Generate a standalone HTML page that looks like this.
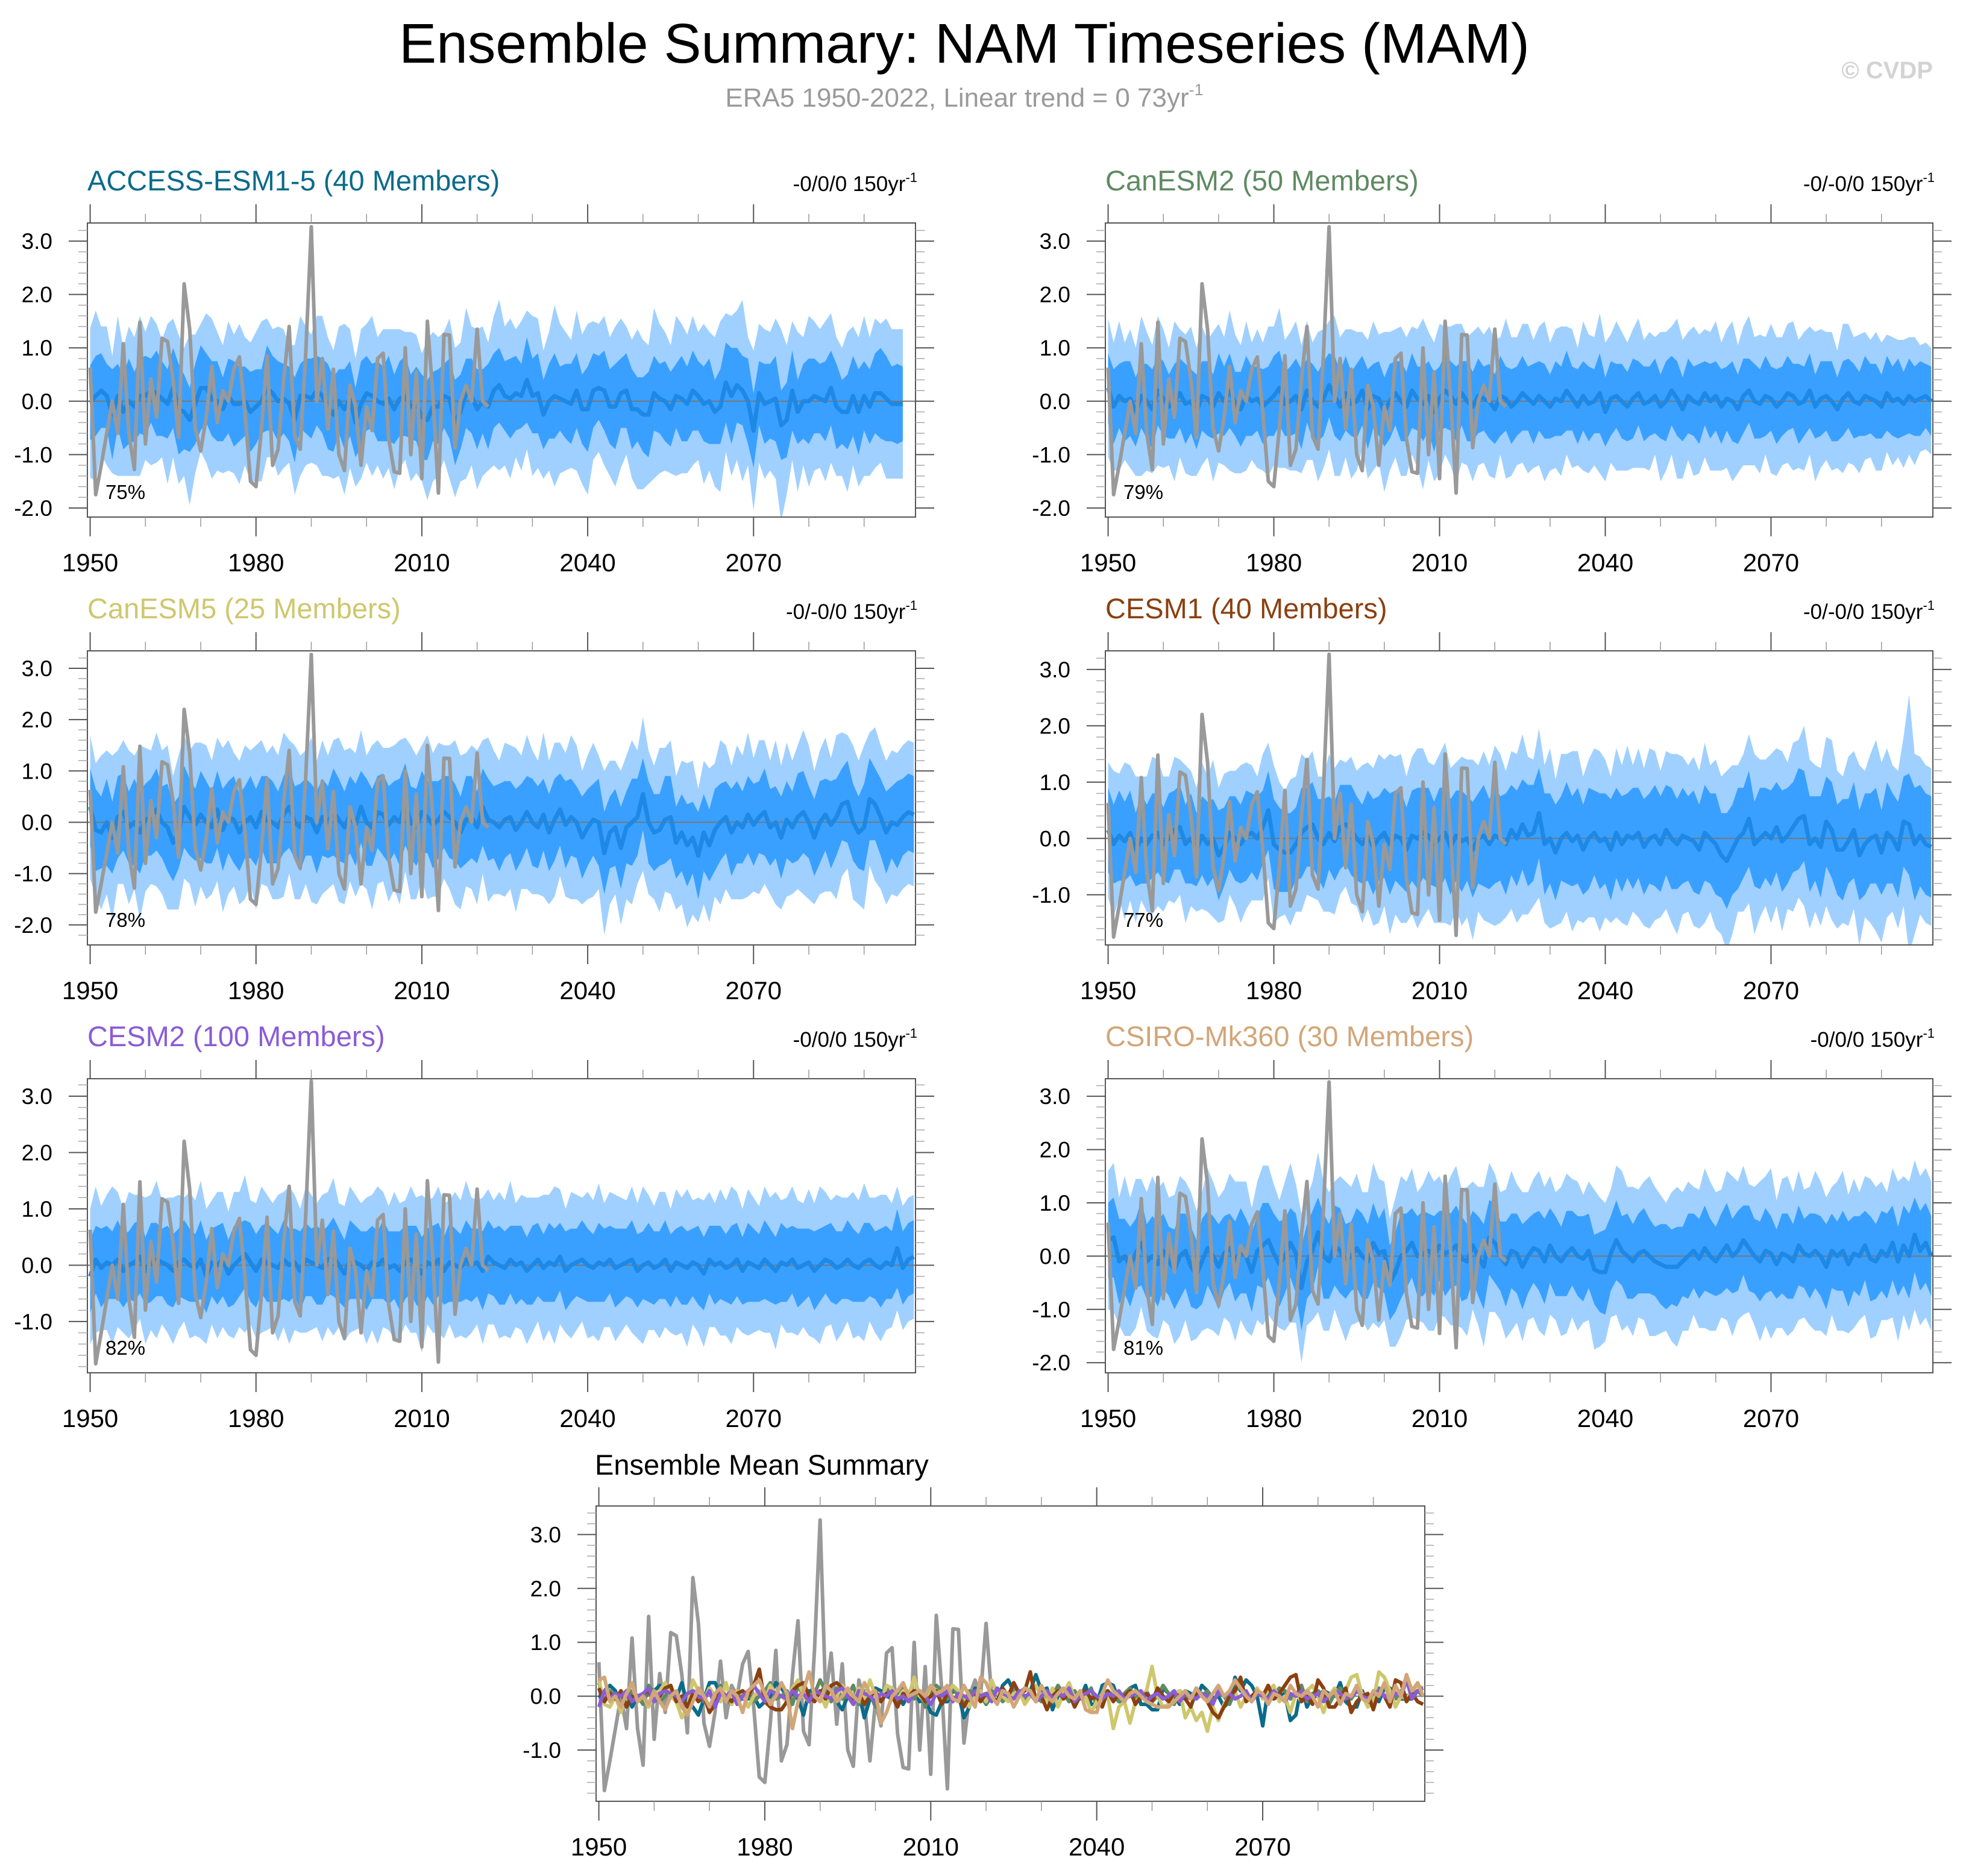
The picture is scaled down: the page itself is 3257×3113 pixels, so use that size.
<!DOCTYPE html>
<html><head><meta charset="utf-8"><title>Ensemble Summary: NAM Timeseries (MAM)</title>
<style>
html,body{margin:0;padding:0;background:#fff;}
svg{display:block;font-family:"Liberation Sans",sans-serif;}
</style></head>
<body>
<svg id="fig" xmlns="http://www.w3.org/2000/svg" width="3257" height="3113" viewBox="0 0 3257 3113">
<text x="1600" y="104" font-size="93" text-anchor="middle" fill="#000">Ensemble Summary: NAM Timeseries (MAM)</text>
<text x="1600" y="177" font-size="44" text-anchor="middle" fill="#9a9a9a">ERA5 1950-2022, Linear trend = 0 73yr<tspan font-size="27" dy="-19">-1</tspan></text>
<text x="3207" y="130" font-size="40" font-weight="bold" text-anchor="end" fill="#d3d3d3">© CVDP</text>
<g id="panels"></g>
</svg>
<script>
// ERA5 observed NAM index 1950-2022
const era5Vals=[0.63,-1.75,-1.2,-0.6,0.0,-0.6,1.08,-0.6,-1.28,1.48,-0.8,0.42,-0.3,1.18,1.12,0.4,-0.68,2.2,1.35,-0.5,-0.93,-0.3,0.65,-0.4,0.2,0.0,0.6,0.83,-0.2,-1.5,-1.6,-0.5,0.85,-1.2,-0.9,0.4,1.4,-0.65,-0.9,0.9,3.27,0.0,0.8,-0.52,0.6,-1.0,-1.3,0.3,-0.1,-1.2,-0.1,-0.55,0.8,0.9,-0.7,-1.32,-1.35,1.0,-1.0,0.55,-1.45,1.5,0.1,-1.72,1.25,1.24,-0.87,0.0,0.3,0.0,1.35,0.0,-0.1];

const accessMean=[-0.03,0.1,0.2,0.1,-0.25,0.1,-0.2,0.0,-0.1,0.1,0.1,0.2,0.15,0.05,-0.05,0.25,-0.15,-0.2,-0.35,-0.05,0.25,0.25,0.05,0.0,-0.15,0.1,-0.05,-0.05,0.0,-0.2,-0.1,0.0,0.25,0.15,0.0,0.05,-0.05,-0.35,0.1,0.1,0.05,0.2,0.1,-0.1,-0.25,0.0,-0.15,0.05,-0.4,-0.05,0.15,0.1,0.0,-0.05,0.05,-0.15,0.05,0.1,-0.1,-0.05,-0.3,-0.35,-0.1,-0.1,0.1,0.05,-0.4,-0.2,0.15,0.1,-0.15,0.0,-0.1,0.2,0.3,0.1,0.05,0.15,0.1,0.4,0.1,0.15,-0.25,0.0,0.1,0.05,0.0,-0.05,0.2,-0.15,-0.15,0.2,0.25,0.2,-0.1,-0.1,0.15,0.2,-0.15,-0.15,-0.25,-0.25,0.15,0.05,0.0,-0.15,0.1,0.05,-0.05,0.2,0.1,-0.05,0.0,-0.2,-0.1,0.35,0.1,0.3,0.2,0.0,-0.55,0.15,-0.05,0.0,0.05,-0.45,-0.35,0.2,-0.2,0.0,0.0,0.1,0.05,0.0,0.25,-0.1,-0.2,-0.2,0.1,-0.2,0.1,-0.1,0.15,0.15,0.05,-0.05,-0.05,-0.05];
const accessInner=[0.7,0.75,0.7,0.6,0.85,0.6,0.7,0.8,0.65,0.7,0.75,0.6,0.8,0.7,0.65,0.75,0.85,0.7,0.6,0.75,0.8,0.65,0.7,0.75,0.6,0.7,0.8,0.7,0.65,0.75,0.7,0.6,0.8,0.7,0.75,0.65,0.7,0.8,0.6,0.7,0.75,0.65,0.7,0.8,0.7,0.6,0.75,0.7,0.65,0.8,0.7,0.6,0.75,0.7,0.8,0.65,0.7,0.75,0.6,0.7,0.8,0.75,0.65,0.7,0.6,0.75,0.8,0.7,0.65,0.7,0.75,0.6,0.8,0.7,0.7,0.65,0.75,0.7,0.6,0.8,0.7,0.75,0.65,0.7,0.8,0.6,0.7,0.75,0.7,0.65,0.8,0.7,0.6,0.75,0.7,0.8,0.65,0.7,0.75,0.6,0.7,0.8,0.7,0.65,0.75,0.7,0.6,0.8,0.7,0.75,0.65,0.7,0.8,0.6,0.7,0.75,0.9,0.7,0.65,0.8,0.7,0.6,0.75,0.7,0.8,0.65,0.7,0.75,0.6,0.7,0.8,0.7,0.65,0.75,0.7,0.8,0.6,0.7,0.75,0.8,0.65,0.7,0.75,0.85,0.8,0.7,0.75,0.7];
const accessOuter=[1.4,1.6,1.2,1.3,1.1,1.5,1.2,1.4,1.3,1.5,1.2,1.4,1.3,1.1,1.5,1.3,1.4,1.2,1.6,1.3,1.2,1.4,1.5,1.3,1.2,1.4,1.3,1.5,1.2,1.3,1.4,1.5,1.3,1.2,1.4,1.3,1.1,1.4,1.5,1.3,1.2,1.4,1.5,1.3,1.2,1.4,1.6,1.3,1.2,1.4,1.3,1.5,1.2,1.4,1.3,1.5,1.3,1.2,1.4,1.3,1.2,1.5,1.4,1.3,1.2,1.5,1.4,1.3,1.6,1.3,1.5,1.4,1.2,1.4,1.6,1.3,1.5,1.2,1.4,1.3,1.5,1.4,1.2,1.3,1.7,1.4,1.3,1.2,1.5,1.4,1.6,1.3,1.2,1.4,1.3,1.5,1.4,1.2,1.3,1.5,1.4,1.3,1.6,1.4,1.3,1.2,1.5,1.4,1.3,1.4,1.2,1.5,1.3,1.4,1.6,1.3,1.5,1.4,1.7,1.2,1.5,1.3,1.4,1.3,1.5,1.8,1.4,1.3,1.5,1.2,1.6,1.4,1.3,1.5,1.4,1.3,1.2,1.5,1.3,1.4,1.5,1.3,1.4,1.3,1.5,1.4];

const canesm2Mean=[0.25,-0.1,0.1,0.0,0.05,-0.2,0.1,0.0,-0.15,0.2,0.05,-0.1,0.0,0.15,-0.05,0.0,-0.2,0.1,0.05,-0.1,0.15,0.0,0.2,-0.05,-0.15,0.1,0.0,0.05,-0.1,0.0,0.1,0.25,-0.05,0.0,0.1,-0.15,0.2,0.0,-0.1,0.05,0.3,0.1,-0.1,0.15,-0.05,0.0,0.2,-0.15,0.1,0.05,-0.2,0.0,0.15,0.0,-0.1,0.2,0.05,-0.05,0.1,-0.2,0.05,0.2,0.1,-0.05,0.15,0.0,-0.1,0.1,0.05,0.0,-0.15,0.1,0.05,-0.1,0.0,0.15,0.05,-0.05,0.1,0.0,-0.1,0.05,0.0,0.2,0.05,-0.1,0.1,-0.05,0.0,0.15,-0.2,0.05,0.1,0.0,-0.1,0.05,0.15,-0.05,0.0,0.1,-0.1,0.0,0.2,0.05,-0.15,0.1,0.0,-0.05,0.15,0.0,0.1,-0.1,0.05,0.0,-0.15,0.1,0.2,0.0,-0.05,0.1,0.05,-0.1,0.0,0.15,0.1,-0.05,0.0,0.2,-0.1,0.05,0.1,0.0,-0.15,0.05,0.15,0.0,-0.05,0.1,0.05,0.0,-0.1,0.15,0.0,0.05,-0.05,0.1,0.0,0.05,0.1,0.0];
const canesm2Inner=[0.65,0.7,0.6,0.75,0.7,0.65,0.6,0.7,0.75,0.65,0.7,0.6,0.7,0.65,0.75,0.6,0.7,0.65,0.7,0.6,0.75,0.65,0.7,0.6,0.7,0.75,0.65,0.6,0.7,0.65,0.75,0.7,0.6,0.65,0.7,0.75,0.6,0.7,0.65,0.7,0.6,0.75,0.65,0.7,0.6,0.7,0.65,0.75,0.6,0.7,0.65,0.7,0.6,0.75,0.65,0.7,0.6,0.7,0.65,0.75,0.6,0.7,0.65,0.7,0.6,0.75,0.65,0.7,0.6,0.7,0.65,0.75,0.6,0.7,0.65,0.7,0.6,0.75,0.65,0.7,0.6,0.7,0.65,0.75,0.6,0.7,0.65,0.7,0.6,0.75,0.65,0.7,0.6,0.7,0.65,0.75,0.6,0.7,0.65,0.7,0.6,0.75,0.65,0.7,0.6,0.7,0.65,0.75,0.6,0.7,0.65,0.7,0.6,0.75,0.65,0.7,0.6,0.7,0.65,0.75,0.6,0.7,0.65,0.7,0.6,0.75,0.65,0.7,0.6,0.7,0.65,0.75,0.6,0.7,0.65,0.7,0.6,0.75,0.65,0.7,0.6,0.7,0.65,0.75,0.6,0.7,0.65,0.7,0.6,0.65];
const canesm2Outer=[1.3,1.2,1.4,1.1,1.3,1.2,1.5,1.3,1.2,1.4,1.3,1.1,1.5,1.2,1.3,1.4,1.2,1.3,1.1,1.4,1.3,1.2,1.5,1.3,1.2,1.4,1.1,1.3,1.2,1.4,1.3,1.5,1.2,1.3,1.4,1.2,1.3,1.1,1.4,1.3,1.2,1.5,1.3,1.2,1.4,1.3,1.1,1.3,1.4,1.2,1.5,1.3,1.2,1.4,1.3,1.2,1.3,1.6,1.2,1.3,1.4,1.2,1.3,1.5,1.3,1.2,1.4,1.3,1.2,1.4,1.3,1.1,1.5,1.3,1.2,1.3,1.4,1.2,1.3,1.5,1.2,1.3,1.4,1.2,1.3,1.1,1.4,1.3,1.2,1.5,1.3,1.2,1.4,1.3,1.2,1.3,1.4,1.2,1.3,1.1,1.4,1.3,1.2,1.5,1.3,1.2,1.4,1.3,1.2,1.3,1.4,1.2,1.3,1.5,1.2,1.3,1.4,1.2,1.3,1.1,1.4,1.3,1.2,1.3,1.4,1.2,1.3,1.2,1.4,1.3,1.2,1.3,1.1,1.4,1.3,1.2,1.3,1.2,1.1,1.3,1.2,1.1,1.2,1.1,1.2,1.1,1.2,1.0];

const canesm5Mean=[0.3,-0.15,-0.2,0.0,-0.3,0.1,0.2,-0.1,0.0,-0.2,0.05,0.1,0.25,0.0,-0.1,-0.4,-0.2,0.3,0.1,-0.05,0.15,0.0,-0.1,0.25,-0.15,0.1,0.05,-0.2,0.0,0.1,-0.1,0.2,0.05,0.0,-0.1,0.15,0.3,0.0,-0.1,0.1,0.05,-0.2,0.1,0.0,0.2,0.05,-0.1,0.15,-0.05,0.3,0.0,-0.1,0.2,0.15,-0.05,0.1,0.0,0.35,0.0,-0.1,0.2,0.1,-0.05,0.05,0.2,0.1,0.0,-0.2,0.05,0.1,-0.1,0.3,0.05,0.0,-0.1,0.05,0.1,-0.15,0.0,0.2,0.0,-0.1,0.15,-0.2,0.05,0.25,-0.05,0.1,0.0,-0.3,-0.1,0.05,0.0,-0.6,-0.2,-0.1,-0.5,-0.1,0.0,0.1,0.55,0.0,-0.2,-0.15,0.05,0.1,-0.4,-0.2,-0.45,-0.3,-0.65,-0.2,-0.45,-0.15,0.0,0.1,-0.2,0.0,-0.1,0.15,-0.05,0.1,0.2,-0.1,0.0,-0.3,0.05,-0.1,0.1,0.2,0.0,-0.3,0.0,0.15,-0.05,0.1,0.35,0.4,0.0,-0.2,-0.1,0.45,0.35,0.1,-0.2,0.0,-0.05,0.1,0.2,0.15];
const canesm5Inner=[0.75,0.8,0.7,0.85,0.7,0.8,0.75,0.7,0.85,0.8,0.7,0.75,0.8,0.7,0.85,0.75,0.7,0.8,0.75,0.7,0.85,0.8,0.7,0.75,0.8,0.7,0.85,0.75,0.7,0.8,0.75,0.7,0.85,0.8,0.7,0.75,0.8,0.7,0.85,0.75,0.7,0.8,0.75,0.7,0.85,0.8,0.7,0.75,0.8,0.7,0.85,0.75,0.7,0.8,0.75,0.7,0.85,0.8,0.7,0.75,0.8,0.7,0.85,0.75,0.7,0.8,0.75,0.7,0.85,0.8,0.7,0.75,0.8,0.7,0.85,0.75,0.7,0.8,0.75,0.7,0.85,0.8,0.7,0.75,0.8,0.7,0.85,0.75,0.7,0.8,0.75,0.7,0.85,0.8,0.7,0.75,0.8,0.7,0.85,0.75,0.7,0.8,0.75,0.7,0.85,0.8,0.7,0.75,0.8,0.7,0.85,0.75,0.7,0.8,0.75,0.7,0.85,0.8,0.7,0.75,0.8,0.7,0.85,0.75,0.7,0.8,0.75,0.7,0.85,0.8,0.7,0.75,0.8,0.7,0.85,0.75,0.7,0.8,0.75,0.7,0.85,0.8,0.7,0.75,0.8,0.7,0.85,0.75];
const canesm5Outer=[1.4,1.3,1.5,1.4,1.6,1.3,1.4,1.5,1.3,1.7,1.4,1.3,1.5,1.4,1.6,1.3,1.5,1.4,1.3,1.6,1.4,1.5,1.3,1.4,1.6,1.5,1.3,1.4,1.5,1.3,1.6,1.4,1.3,1.5,1.4,1.6,1.3,1.5,1.4,1.3,1.6,1.4,1.5,1.3,1.4,1.6,1.5,1.3,1.4,1.5,1.3,1.6,1.4,1.3,1.5,1.4,1.6,1.3,1.5,1.4,1.3,1.6,1.4,1.5,1.3,1.4,1.6,1.5,1.3,1.4,1.5,1.3,1.6,1.4,1.3,1.5,1.4,1.6,1.3,1.5,1.4,1.3,1.6,1.4,1.5,1.3,1.4,1.6,1.5,1.3,1.4,1.5,1.3,1.6,1.4,1.3,1.5,1.4,1.6,1.3,1.5,1.4,1.3,1.6,1.4,1.5,1.3,1.4,1.6,1.5,1.3,1.4,1.5,1.3,1.6,1.4,1.3,1.5,1.4,1.6,1.3,1.5,1.4,1.3,1.6,1.4,1.5,1.3,1.4,1.6,1.5,1.3,1.4,1.5,1.3,1.6,1.4,1.3,1.5,1.4,1.6,1.3,1.5,1.4];

const cesm1Mean=[0.15,-0.1,0.05,-0.05,0.1,-0.2,0.0,-0.1,0.05,0.1,-0.1,0.0,0.15,0.2,-0.1,0.0,-0.2,0.05,-0.1,0.0,-0.3,-0.15,0.1,0.0,-0.1,0.05,0.1,0.0,0.2,0.5,-0.1,-0.2,-0.25,-0.25,-0.1,0.1,0.2,0.25,0.0,-0.1,0.1,-0.05,0.2,0.25,0.15,0.0,-0.1,0.05,-0.15,0.0,0.1,-0.1,0.05,0.0,-0.2,0.05,0.0,0.1,0.05,-0.1,0.0,0.1,-0.15,0.05,-0.05,0.0,-0.2,0.0,0.05,-0.1,0.05,0.0,-0.1,0.15,0.0,0.25,0.05,0.1,0.45,-0.1,0.0,-0.25,0.0,0.1,-0.05,0.05,-0.2,0.0,0.1,-0.05,0.0,-0.2,0.1,-0.1,0.05,0.0,0.1,-0.15,0.0,0.05,-0.1,0.15,0.0,-0.1,0.05,0.0,-0.05,-0.2,0.1,0.0,-0.1,-0.3,-0.4,-0.2,0.0,0.1,0.35,-0.1,0.0,0.1,0.0,0.2,-0.05,0.05,0.2,0.35,0.4,-0.1,0.0,-0.15,0.3,0.15,-0.2,-0.2,-0.05,0.15,-0.3,-0.1,0.0,0.05,-0.25,0.1,0.0,-0.2,0.3,0.25,-0.1,0.05,-0.1,-0.15];
const cesm1Inner=[0.75,0.7,0.8,0.7,0.75,0.65,0.8,0.7,0.75,0.7,0.65,0.8,0.7,0.75,0.7,0.8,0.65,0.7,0.75,0.7,0.8,0.7,0.65,0.75,0.7,0.8,0.7,0.75,0.65,0.7,0.8,0.75,0.7,0.7,0.65,0.8,0.7,0.75,0.7,0.8,0.65,0.7,0.75,0.7,0.8,0.75,0.7,0.8,0.85,0.75,0.8,0.9,0.8,0.85,0.75,0.8,0.9,0.8,0.85,0.75,0.9,0.8,0.85,0.8,0.9,0.75,0.85,0.8,0.9,0.8,0.85,0.75,0.9,0.8,0.85,0.8,0.9,0.85,0.8,0.9,0.8,0.85,0.75,0.9,0.8,0.85,0.8,0.9,0.75,0.85,0.8,0.9,0.8,0.85,0.75,0.9,0.8,0.85,0.8,0.9,0.85,0.8,0.9,0.8,0.85,0.75,0.9,0.8,0.85,0.8,0.9,0.75,0.85,0.8,0.9,0.8,0.85,0.75,0.9,0.8,0.85,0.8,0.9,0.85,0.8,0.9,0.8,0.85,0.75,0.9,0.8,0.85,0.8,0.9,0.75,0.85,0.8,0.9,0.8,0.85,0.75,0.9,0.8,0.85,0.8,0.9,1.0,0.9];
const cesm1Outer=[1.2,1.3,1.1,1.4,1.2,1.3,1.1,1.2,1.4,1.3,1.2,1.1,1.3,1.2,1.4,1.2,1.1,1.3,1.2,1.4,1.2,1.3,1.1,1.2,1.4,1.3,1.2,1.1,1.3,1.2,1.4,1.2,1.1,1.3,1.2,1.4,1.2,1.3,1.1,1.2,1.4,1.3,1.2,1.1,1.3,1.2,1.4,1.3,1.4,1.5,1.3,1.6,1.4,1.5,1.3,1.4,1.6,1.5,1.3,1.4,1.5,1.6,1.4,1.3,1.5,1.4,1.6,1.3,1.5,1.4,1.6,1.5,1.3,1.4,1.5,1.6,1.4,1.3,1.5,1.4,1.6,1.3,1.5,1.4,1.6,1.5,1.3,1.4,1.5,1.6,1.4,1.3,1.5,1.4,1.6,1.3,1.5,1.4,1.6,1.5,1.3,1.4,1.5,1.6,1.4,1.3,1.5,1.4,1.6,1.3,1.5,1.4,1.6,1.5,1.3,1.4,1.5,1.6,1.4,1.3,1.5,1.4,1.6,1.3,1.5,1.4,1.6,1.5,1.3,1.4,1.5,1.6,1.4,1.3,1.5,1.4,1.6,1.3,1.5,1.7,1.6,1.5,1.3,1.4,1.5,2.3,1.6,1.4];

const cesm2Mean=[-0.2,0.1,-0.05,0.05,0.0,0.1,-0.1,0.0,0.05,0.15,-0.1,0.05,0.1,0.05,0.0,-0.1,0.05,0.1,0.0,-0.05,0.1,-0.2,0.05,0.0,0.1,-0.15,0.0,0.1,0.2,0.05,-0.1,0.1,0.05,0.0,-0.05,0.1,0.0,0.05,-0.1,0.1,0.05,0.0,-0.05,0.1,0.15,0.0,-0.15,0.1,0.05,0.0,-0.1,0.05,0.0,0.1,-0.05,0.0,-0.1,0.05,0.1,0.0,-0.15,0.05,0.0,0.1,-0.1,0.05,0.0,-0.05,0.1,0.0,0.05,-0.1,0.15,0.05,0.0,-0.05,0.1,0.0,0.05,-0.1,0.0,0.1,-0.05,0.05,0.0,0.15,-0.1,0.0,0.05,0.1,0.0,-0.05,0.05,0.0,0.1,-0.05,0.0,0.05,0.1,-0.1,0.0,0.05,-0.05,0.0,0.1,-0.1,0.05,0.0,-0.05,0.05,0.0,-0.15,0.1,0.0,0.05,-0.05,0.0,0.1,-0.1,0.05,0.0,-0.05,0.1,0.0,-0.1,0.05,0.0,0.1,-0.05,0.0,0.05,-0.1,0.0,0.1,0.05,-0.05,0.0,0.1,0.0,-0.05,0.05,0.1,0.0,-0.05,0.05,0.0,0.3,-0.05,0.1,0.15];
const cesm2Inner=[0.65,0.6,0.7,0.65,0.6,0.7,0.65,0.6,0.7,0.65,0.6,0.7,0.65,0.6,0.7,0.65,0.6,0.7,0.65,0.6,0.7,0.65,0.6,0.7,0.65,0.6,0.7,0.65,0.6,0.7,0.65,0.6,0.7,0.65,0.6,0.7,0.65,0.6,0.7,0.65,0.6,0.7,0.65,0.6,0.7,0.65,0.6,0.7,0.65,0.6,0.7,0.65,0.6,0.7,0.65,0.6,0.7,0.65,0.6,0.7,0.65,0.6,0.7,0.65,0.6,0.7,0.65,0.6,0.7,0.65,0.6,0.7,0.65,0.6,0.7,0.65,0.6,0.7,0.65,0.6,0.7,0.65,0.6,0.7,0.65,0.6,0.7,0.65,0.6,0.7,0.65,0.6,0.7,0.65,0.6,0.7,0.65,0.6,0.7,0.65,0.6,0.7,0.65,0.6,0.7,0.65,0.6,0.7,0.65,0.6,0.7,0.65,0.6,0.7,0.65,0.6,0.7,0.65,0.6,0.7,0.65,0.6,0.7,0.65,0.6,0.7,0.65,0.6,0.7,0.65,0.6,0.7,0.65,0.6,0.7,0.65,0.6,0.7,0.65,0.6,0.7,0.65,0.6,0.7,0.65,0.6,0.7,0.65];
const cesm2Outer=[1.2,1.3,1.1,1.2,1.4,1.2,1.1,1.3,1.2,1.1,1.3,1.2,1.4,1.1,1.2,1.3,1.2,1.1,1.3,1.2,1.4,1.2,1.1,1.3,1.2,1.1,1.3,1.2,1.4,1.1,1.2,1.3,1.2,1.1,1.3,1.2,1.4,1.2,1.1,1.3,1.2,1.1,1.3,1.2,1.4,1.1,1.2,1.3,1.2,1.1,1.3,1.2,1.4,1.2,1.1,1.3,1.2,1.1,1.3,1.2,1.4,1.1,1.2,1.3,1.2,1.1,1.3,1.2,1.4,1.2,1.1,1.3,1.2,1.1,1.3,1.2,1.4,1.1,1.2,1.3,1.2,1.1,1.3,1.2,1.4,1.2,1.1,1.3,1.2,1.1,1.3,1.2,1.4,1.1,1.2,1.3,1.2,1.1,1.3,1.2,1.4,1.2,1.1,1.3,1.2,1.1,1.3,1.2,1.4,1.1,1.2,1.3,1.2,1.1,1.3,1.2,1.4,1.2,1.1,1.3,1.2,1.1,1.3,1.2,1.4,1.1,1.2,1.3,1.2,1.1,1.3,1.2,1.4,1.2,1.1,1.3,1.2,1.1,1.3,1.2,1.4,1.1,1.2,1.3,1.2,1.1];

const csiroMean=[0.3,0.35,-0.1,0.0,-0.2,0.05,0.25,-0.1,0.0,-0.15,0.1,-0.1,-0.25,0.0,0.1,-0.2,-0.35,-0.1,0.15,0.0,-0.2,0.05,0.15,-0.1,0.1,0.0,-0.3,0.1,0.2,0.3,0.05,-0.15,0.0,0.25,0.05,-0.6,-0.1,0.1,0.45,0.0,-0.1,0.2,0.1,-0.1,0.0,0.15,0.0,-0.1,0.25,0.05,0.1,-0.5,-0.3,0.0,0.1,0.25,0.0,0.05,0.1,0.0,0.2,0.05,0.1,0.2,-0.05,-0.1,0.2,0.0,-0.2,0.35,0.25,0.0,-0.15,0.1,0.05,-0.2,0.0,0.15,0.1,-0.1,0.2,0.0,-0.1,0.05,0.15,0.0,-0.05,0.1,-0.25,-0.3,-0.3,0.05,0.3,0.1,0.0,-0.1,0.05,0.1,0.0,-0.1,-0.15,-0.2,-0.2,-0.2,-0.1,0.0,0.1,-0.05,0.15,0.0,-0.1,0.05,0.2,0.0,0.1,0.3,0.15,0.0,-0.1,0.1,0.05,-0.15,0.05,0.0,-0.1,0.2,0.05,0.0,0.1,0.0,-0.2,0.1,0.0,0.1,-0.15,0.05,0.0,0.2,-0.05,-0.1,0.1,0.0,0.25,-0.1,0.2,0.0,0.4,0.1,0.25,0.0];
const csiroInner=[0.7,0.75,0.8,0.7,0.75,0.65,0.8,0.7,0.75,0.8,0.7,0.65,0.75,0.8,0.7,0.75,0.65,0.8,0.7,0.75,0.8,0.7,0.65,0.75,0.8,0.7,0.75,0.65,0.8,0.7,0.75,0.8,0.7,0.65,0.75,0.8,0.7,0.75,0.65,0.8,0.7,0.75,0.8,0.7,0.65,0.75,0.8,0.7,0.75,0.65,0.8,0.7,0.75,0.8,0.7,0.65,0.75,0.8,0.7,0.75,0.65,0.8,0.7,0.75,0.8,0.7,0.65,0.75,0.8,0.7,0.75,0.65,0.8,0.7,0.75,0.8,0.7,0.65,0.75,0.8,0.7,0.75,0.65,0.8,0.7,0.75,0.8,0.7,0.65,0.75,0.8,0.7,0.75,0.65,0.8,0.7,0.75,0.8,0.7,0.65,0.75,0.8,0.7,0.75,0.65,0.8,0.7,0.75,0.8,0.7,0.65,0.75,0.8,0.7,0.75,0.65,0.8,0.7,0.75,0.8,0.7,0.65,0.75,0.8,0.7,0.75,0.65,0.8,0.7,0.75,0.8,0.7,0.65,0.75,0.8,0.7,0.75,0.65,0.8,0.7,0.75,0.8,0.7,0.65,0.75,0.8,0.7,0.75];
const csiroOuter=[1.3,1.4,1.2,1.5,1.3,1.4,1.2,1.3,1.5,1.4,1.3,1.2,1.4,1.5,1.3,1.4,1.2,1.3,1.5,1.4,1.3,1.2,1.4,1.5,1.3,1.4,1.2,1.3,1.5,1.4,1.3,1.2,1.4,1.5,1.3,1.4,1.2,1.3,1.5,1.4,1.3,1.2,1.4,1.5,1.3,1.4,1.2,1.3,1.5,1.4,1.3,1.2,1.4,1.5,1.3,1.4,1.2,1.3,1.5,1.4,1.3,1.2,1.4,1.5,1.3,1.4,1.2,1.3,1.5,1.4,1.3,1.2,1.4,1.5,1.3,1.4,1.2,1.3,1.5,1.4,1.3,1.2,1.4,1.5,1.3,1.4,1.2,1.3,1.5,1.4,1.3,1.2,1.4,1.5,1.3,1.4,1.2,1.3,1.5,1.4,1.3,1.2,1.4,1.5,1.3,1.4,1.2,1.3,1.5,1.4,1.3,1.2,1.4,1.5,1.3,1.4,1.2,1.3,1.5,1.4,1.6,1.2,1.4,1.5,1.3,1.4,1.2,1.3,1.5,1.4,1.3,1.2,1.4,1.5,1.3,1.4,1.2,1.3,1.5,1.4,1.3,1.2,1.4,1.5,1.3,1.4];

const startYear=1950;
const xTickYears=[1950,1980,2010,2040,2070];
const xMinorYears=[1960,1970,1990,2000,2020,2030,2050,2060,2080,2090];

const panels=[
 {name:'access-esm1-5',title:'ACCESS-ESM1-5 (40 Members)',color:'#0b6b8a',trend:'-0/0/0 150yr',pct:'75%',box:[145,370,1519,858],ymin:-2.17,ymax:3.34,yt:[-2,-1,0,1,2,3],mean:accessMean,inner:accessInner,outer:accessOuter},
 {name:'canesm2',title:'CanESM2 (50 Members)',color:'#5f8a62',trend:'-0/-0/0 150yr',pct:'79%',box:[1834,370,3207,858],ymin:-2.17,ymax:3.34,yt:[-2,-1,0,1,2,3],mean:canesm2Mean,inner:canesm2Inner,outer:canesm2Outer},
 {name:'canesm5',title:'CanESM5 (25 Members)',color:'#cfc76e',trend:'-0/-0/0 150yr',pct:'78%',box:[145,1080,1519,1568],ymin:-2.39,ymax:3.34,yt:[-2,-1,0,1,2,3],mean:canesm5Mean,inner:canesm5Inner,outer:canesm5Outer},
 {name:'cesm1',title:'CESM1 (40 Members)',color:'#8b4010',trend:'-0/-0/0 150yr',pct:'77%',box:[1834,1080,3207,1568],ymin:-1.89,ymax:3.33,yt:[-1,0,1,2,3],mean:cesm1Mean,inner:cesm1Inner,outer:cesm1Outer},
 {name:'cesm2',title:'CESM2 (100 Members)',color:'#8a5cd6',trend:'-0/0/0 150yr',pct:'82%',box:[145,1790,1519,2278],ymin:-1.91,ymax:3.31,yt:[-1,0,1,2,3],mean:cesm2Mean,inner:cesm2Inner,outer:cesm2Outer},
 {name:'csiro-mk360',title:'CSIRO-Mk360 (30 Members)',color:'#d2a679',trend:'-0/0/0 150yr',pct:'81%',box:[1834,1790,3207,2278],ymin:-2.19,ymax:3.33,yt:[-2,-1,0,1,2,3],mean:csiroMean,inner:csiroInner,outer:csiroOuter}
];

const NS='http://www.w3.org/2000/svg';
const root=document.getElementById('panels');
function mk(parent,tag,attrs,txt){const e=document.createElementNS(NS,tag);for(const k in attrs)e.setAttribute(k,attrs[k]);if(txt!==undefined)e.textContent=txt;parent.appendChild(e);return e;}

function axes(g,box,ymin,ymax,yt){
  const [x0,y0,x1,y1]=box;
  const xs=yr=>x0+(yr-1949.5)/(2099.3-1949.5)*(x1-x0);
  const ys=v=>y1-(v-ymin)/(ymax-ymin)*(y1-y0);
  return {xs,ys};
}
function frame(g,box,ymin,ymax,yt,xs,ys){
  const [x0,y0,x1,y1]=box;
  const fr=mk(g,'rect',{x:x0,y:y0,width:x1-x0,height:y1-y0,fill:'none',stroke:'#555','stroke-width':2});
  
  
  xTickYears.forEach(yr=>{
    const x=xs(yr);
    const t1=mk(g,'line',{x1:x,x2:x,y1:y0,y2:y0-31,stroke:'#555','stroke-width':2});
    
    
    const t2=mk(g,'line',{x1:x,x2:x,y1:y1,y2:y1+32,stroke:'#555','stroke-width':2});
    
    
    const lb=mk(g,'text',{x:x,y:y1+90,'font-size':42,'text-anchor':'middle',fill:'#000'},String(yr));
    
    
  });
  xMinorYears.forEach(yr=>{
    const x=xs(yr);
    const m1=mk(g,'line',{x1:x,x2:x,y1:y0,y2:y0-15,stroke:'#999','stroke-width':1.5});
    
    
    const m2=mk(g,'line',{x1:x,x2:x,y1:y1,y2:y1+16,stroke:'#999','stroke-width':1.5});
    
    
  });
  for(let v=Math.ceil(ymin*5)/5;v<=ymax+1e-9;v+=0.2){
    const y=ys(v);
    const isMaj=Math.abs(v-Math.round(v))<1e-6;
    if(isMaj) continue;
    const a=mk(g,'line',{x1:x0,x2:x0-15,y1:y,y2:y,stroke:'#aaa','stroke-width':1.5});
    
    
    const b=mk(g,'line',{x1:x1,x2:x1+15,y1:y,y2:y,stroke:'#aaa','stroke-width':1.5});
    
    
  }
  yt.forEach(v=>{
    const y=ys(v);
    const a=mk(g,'line',{x1:x0,x2:x0-31,y1:y,y2:y,stroke:'#555','stroke-width':2});
    
    
    const b=mk(g,'line',{x1:x1,x2:x1+31,y1:y,y2:y,stroke:'#555','stroke-width':2});
    
    
    const lb=mk(g,'text',{x:x0-58,y:y+13,'font-size':37,'text-anchor':'end',fill:'#000'},v.toFixed(1));
    
    
  });
}
function linePath(arr,xs,ys){return arr.map((v,i)=>(i?'L':'M')+xs(startYear+i).toFixed(1)+','+ys(v).toFixed(1)).join('');}
function bandPath(mean,half,xs,ys){
  let up=mean.map((m,i)=>[xs(startYear+i),ys(m+half[Math.min(i,half.length-1)])]);
  let dn=mean.map((m,i)=>[xs(startYear+i),ys(m-half[Math.min(i,half.length-1)])]).reverse();
  return 'M'+up.concat(dn).map(p=>p[0].toFixed(1)+','+p[1].toFixed(1)).join('L')+'Z';
}

panels.forEach(p=>{
  const g=mk(root,'g',{});
  
  
  const {xs,ys}=axes(g,p.box,p.ymin,p.ymax,p.yt);
  const [x0,y0,x1,y1]=p.box;
  const clipId='clip-'+p.name;
  const cp=mk(g,'clipPath',{id:clipId});
  mk(cp,'rect',{x:x0,y:y0,width:x1-x0,height:y1-y0});
  const cg=mk(g,'g',{'clip-path':'url(#'+clipId+')'});
  const ob=mk(cg,'path',{d:bandPath(p.mean,p.outer,xs,ys),fill:'#a0d0ff'});
  
  
  const ib=mk(cg,'path',{d:bandPath(p.mean,p.inner,xs,ys),fill:'#3aa0ff'});
  
  
  const zl=mk(cg,'line',{x1:x0,x2:x1,y1:ys(0),y2:ys(0),stroke:'#777','stroke-width':2});
  
  
  const ml=mk(cg,'path',{d:linePath(p.mean,xs,ys),fill:'none',stroke:'#1e88e5','stroke-width':7,'stroke-linejoin':'round'});
  
  
  const ol=mk(cg,'path',{d:linePath(era5Vals,xs,ys),fill:'none',stroke:'#999','stroke-width':6,'stroke-linejoin':'round'});
  
  
  frame(g,p.box,p.ymin,p.ymax,p.yt,xs,ys);
  const tt=mk(g,'text',{x:x0,y:y0-54,'font-size':47,fill:p.color},p.title);
  
  
  const tr=mk(g,'text',{x:x1+3,y:y0-53,'font-size':35,'text-anchor':'end',fill:'#000'},p.trend);
  const sup=mk(tr,'tspan',{'font-size':22,dy:-15},'-1');
  
  
  const pc=mk(g,'text',{x:x0+30,y:y1-30,'font-size':33,fill:'#000'},p.pct);
  
  
});

// Ensemble mean summary panel
(function(){
  const box=[989,2499,2364,2989], ymin=-1.95, ymax=3.53, yt=[-1,0,1,2,3];
  const g=mk(root,'g',{});
  
  
  const {xs,ys}=axes(g,box,ymin,ymax,yt);
  const [x0,y0,x1,y1]=box;
  const cp=mk(g,'clipPath',{id:'clip-summary'});
  mk(cp,'rect',{x:x0,y:y0,width:x1-x0,height:y1-y0});
  const cg=mk(g,'g',{'clip-path':'url(#clip-summary)'});
  const zl=mk(cg,'line',{x1:x0,x2:x1,y1:ys(0),y2:ys(0),stroke:'#777','stroke-width':2});
  
  
  const ol=mk(cg,'path',{d:linePath(era5Vals,xs,ys),fill:'none',stroke:'#999','stroke-width':6,'stroke-linejoin':'round'});
  
  
  panels.forEach(p=>{
    const l=mk(cg,'path',{d:linePath(p.mean,xs,ys),fill:'none',stroke:p.color,'stroke-width':6,'stroke-linejoin':'round'});
    
    
  });
  frame(g,box,ymin,ymax,yt,xs,ys);
  const tt=mk(g,'text',{x:x0-2,y:y0-52,'font-size':47,fill:'#000'},'Ensemble Mean Summary');
  
  
})();
</script>
</body></html>
